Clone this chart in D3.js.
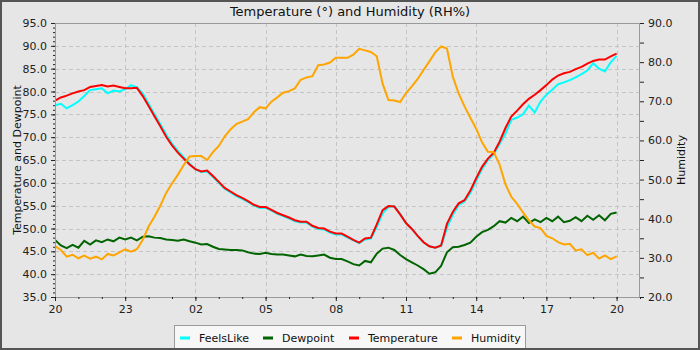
<!DOCTYPE html>
<html>
<head>
<meta charset="utf-8">
<script src="https://cdn.jsdelivr.net/npm/d3@7"></script>
<style>
  body { margin: 0; background: #e6e6e6; }
  svg { display: block; font-family: "DejaVu Sans", sans-serif; }
</style>
</head>
<body>
<svg id="chart" width="700" height="350"></svg>
<script>
// Readings every 15 minutes, starting at 20:00 and running 24 hours.
const startHour = 20;
const sampleMinutes = 15;

const temperature = [
  78.0, 78.7, 79.1, 79.6, 80.0, 80.3, 81.0, 81.2, 81.4, 81.1, 81.3, 81.0,
  80.7, 80.7, 80.8, 79.0, 76.8, 74.6, 72.4, 70.1, 68.2, 66.6, 65.3, 64.0,
  63.0, 62.5, 62.7, 61.5, 60.2, 58.9, 58.1, 57.3, 56.7, 56.0, 55.2, 54.7,
  54.7, 54.1, 53.4, 52.9, 52.4, 51.8, 51.5, 51.5, 50.6, 50.1, 50.0, 49.3,
  48.9, 48.9, 48.2, 47.5, 46.9, 47.8, 48.0, 50.9, 54.0, 54.9, 54.8, 53.1,
  51.2, 49.9, 48.4, 47.0, 46.1, 45.8, 46.3, 51.0, 53.6, 55.5, 56.2, 58.3,
  61.0, 63.5, 65.3, 66.6, 69.0, 72.0, 74.5, 75.8, 77.2, 78.4, 79.3, 80.3,
  81.4, 82.6, 83.5, 84.0, 84.3, 84.9, 85.4, 86.1, 86.7, 87.0, 87.0, 87.7,
  88.3
];

const feelsLike = [
  77.0, 77.3, 76.3, 77.0, 77.8, 79.0, 80.3, 80.5, 80.7, 79.6, 80.2, 80.0,
  80.5, 81.4, 80.9, 79.6, 77.3, 75.0, 72.9, 70.6, 68.6, 67.0, 65.6, 64.2,
  63.0, 62.4, 62.5, 61.3, 60.0, 58.7, 57.9, 57.1, 56.5, 55.8, 55.0, 54.5,
  54.5, 53.9, 53.2, 52.7, 52.2, 51.6, 51.3, 51.3, 50.4, 49.9, 49.8, 49.1,
  48.7, 48.7, 48.0, 47.4, 46.8, 47.6, 47.8, 50.3, 53.3, 54.7, 54.9, 53.2,
  51.2, 49.9, 48.4, 47.0, 46.1, 45.8, 46.2, 50.2, 53.0, 55.1, 55.9, 57.8,
  60.5, 63.0, 65.0, 66.3, 68.5, 70.8, 73.8, 74.3, 75.0, 76.9, 75.4, 77.8,
  79.3, 80.4, 81.6, 82.0, 82.5, 83.1, 83.8, 84.6, 86.2, 85.0, 84.4, 86.4,
  87.8
];

const dewpoint = [
  47.5, 46.3, 45.7, 46.4, 45.8, 47.3, 46.5, 47.4, 47.0, 47.6, 47.2, 48.0,
  47.6, 48.0, 47.4, 48.2, 48.3, 48.0, 47.9, 47.6, 47.5, 47.3, 47.6, 47.2,
  46.9, 46.5, 46.6, 46.0, 45.5, 45.4, 45.3, 45.3, 45.2, 44.8, 44.5, 44.4,
  44.7, 44.4, 44.3, 44.3, 44.1, 43.9, 44.3, 44.0, 43.9, 44.1, 44.3, 43.6,
  43.3, 43.3, 42.8, 42.2, 41.9, 42.9, 42.6, 44.5, 45.6, 45.8, 45.3, 44.2,
  43.3, 42.6, 41.9, 41.1, 40.1, 40.4, 41.8, 44.8, 45.9, 46.0, 46.4, 46.9,
  48.2, 49.2, 49.7, 50.5, 51.6, 51.3, 52.3, 51.6, 52.6, 51.2, 52.0, 51.4,
  52.3, 51.6, 52.6, 51.4, 51.7, 52.5, 51.6, 52.8, 51.9, 52.9, 51.8, 53.2,
  53.5
];

const humidity = [
  33.0, 32.0, 30.3, 30.8, 29.9, 30.6, 29.8, 30.3, 29.6, 31.0, 30.6, 31.4,
  32.2, 31.6, 32.2, 34.6, 38.0, 40.5, 43.3, 46.6, 49.0, 51.2, 53.7, 55.9,
  56.0, 56.0, 55.0, 57.0, 58.6, 61.0, 62.8, 64.2, 64.8, 65.4, 67.2, 68.5,
  68.2, 69.9, 71.0, 72.2, 72.6, 73.3, 75.5, 76.1, 76.4, 79.2, 79.4, 79.9,
  81.1, 81.1, 81.1, 81.9, 83.4, 83.0, 82.6, 81.5, 74.5, 70.3, 70.2, 69.8,
  72.1, 73.8, 75.7, 78.0, 80.2, 82.5, 84.0, 83.5, 76.3, 72.0, 68.7, 65.8,
  63.0, 59.5, 57.1, 57.0, 53.8, 48.8, 45.6, 43.8, 41.6, 39.6, 38.0, 37.6,
  35.6, 35.0, 34.0, 33.4, 33.6, 31.9, 32.2, 30.7, 31.3, 29.8, 30.6, 29.7,
  30.4
];

// Hour-of-day axis: offsets (hours after the start) and their labels.
const hourTicks = [0, 3, 6, 9, 12, 15, 18, 21, 24];
const hourTickLabels = ["20", "23", "02", "05", "08", "11", "14", "17", "20"];

const seriesNames = ["FeelsLike", "Dewpoint", "Temperature", "Humidity"];
const seriesColors = ["#00ffff", "#006400", "#ff0000", "#ffa500"];

// ---------------------------------------------------------------------------
const svg = d3.select("#chart");
const W = 700, H = 350;
const plot = { left: 55, right: 640, top: 23, bottom: 297 };

svg.append("rect").attr("width", W).attr("height", H).attr("fill", "#e6e6e6");

const x = d3.scaleLinear().domain([0, 25]).range([plot.left, plot.right]);
const yL = d3.scaleLinear().domain([35, 95]).range([plot.bottom, plot.top]);
const yR = d3.scaleLinear().domain([20, 90]).range([plot.bottom, plot.top]);

const hourAt = i => i * sampleMinutes / 60;

// grid
const grid = svg.append("g").attr("stroke", "#c4c4c4").attr("stroke-dasharray", "4,3").attr("stroke-width", 1);
grid.selectAll("line.v").data(hourTicks.filter(h => h > 0)).join("line")
  .attr("x1", d => Math.round(x(d)) + 0.5).attr("x2", d => Math.round(x(d)) + 0.5)
  .attr("y1", plot.top).attr("y2", plot.bottom);
grid.selectAll("line.h").data(d3.range(40, 95, 5)).join("line")
  .attr("y1", d => Math.round(yL(d)) + 0.5).attr("y2", d => Math.round(yL(d)) + 0.5)
  .attr("x1", plot.left).attr("x2", plot.right);

// series, drawn back to front
const lines = [feelsLike, dewpoint, temperature, humidity];
const scales = [yL, yL, yL, yR];
svg.append("clipPath").attr("id", "plotclip").append("rect")
  .attr("x", plot.left).attr("y", plot.top)
  .attr("width", plot.right - plot.left).attr("height", plot.bottom - plot.top);
const seriesG = svg.append("g").attr("clip-path", "url(#plotclip)");
lines.forEach((vals, k) => {
  const line = d3.line()
    .x((d, i) => x(hourAt(i)))
    .y(d => scales[k](d))
    .curve(d3.curveLinear);
  seriesG.append("path").datum(vals)
    .attr("d", line)
    .attr("fill", "none")
    .attr("stroke", seriesColors[k])
    .attr("stroke-width", 2)
    .attr("stroke-linejoin", "miter");
});

// plot frame
svg.append("rect")
  .attr("x", plot.left + 0.5).attr("y", plot.top + 0.5)
  .attr("width", plot.right - plot.left - 1).attr("height", plot.bottom - plot.top)
  .attr("fill", "none").attr("stroke", "#9a9a9a");

// axes
function styleAxis(g) {
  g.select(".domain").remove();
  g.selectAll(".tick line").attr("stroke", "#222");
  g.selectAll(".tick text").attr("fill", "#222").attr("font-size", 11)
    .attr("font-family", "DejaVu Sans, sans-serif");
}

svg.append("g").attr("transform", `translate(${plot.left},0)`)
  .call(d3.axisLeft(yL).tickValues(d3.range(35, 96, 1)).tickSize(2).tickFormat(""))
  .call(styleAxis);
svg.append("g").attr("transform", `translate(${plot.left},0)`)
  .call(d3.axisLeft(yL).tickValues(d3.range(35, 96, 5)).tickSize(4).tickPadding(4).tickFormat(d3.format(".1f")))
  .call(styleAxis);

svg.append("g").attr("transform", `translate(${plot.right},0)`)
  .call(d3.axisRight(yR).tickValues(d3.range(20, 91, 5)).tickSize(4).tickPadding(4)
    .tickFormat(d => d % 10 === 0 ? d3.format(".1f")(d) : ""))
  .call(styleAxis);

svg.append("g").attr("transform", `translate(0,${plot.bottom})`)
  .call(d3.axisBottom(x).tickValues(d3.range(0, 26, 1)).tickSize(2).tickFormat(""))
  .call(styleAxis);
svg.append("g").attr("transform", `translate(0,${plot.bottom})`)
  .call(d3.axisBottom(x).tickValues(hourTicks).tickSize(4).tickPadding(4)
    .tickFormat((d, i) => hourTickLabels[i]))
  .call(styleAxis);

// titles
svg.append("text").attr("x", 350).attr("y", 15.5).attr("text-anchor", "middle")
  .attr("font-size", 13).attr("fill", "#111")
  .text("Temperature (°) and Humidity (RH%)");
svg.append("text").attr("transform", `translate(20.5,${(plot.top + plot.bottom) / 2}) rotate(-90)`)
  .attr("text-anchor", "middle").attr("font-size", 11).attr("fill", "#111")
  .text("Temperature and Dewpoint");
svg.append("text").attr("transform", `translate(685,${(plot.top + plot.bottom) / 2}) rotate(-90)`)
  .attr("text-anchor", "middle").attr("font-size", 11).attr("fill", "#111")
  .text("Humidity");

// legend
const legend = svg.append("g");
legend.append("rect").attr("x", 174.5).attr("y", 325.5).attr("width", 351).attr("height", 24)
  .attr("fill", "#f7f7f7").attr("stroke", "#9a9a9a");
const legendX = [180, 263, 349, 452];
seriesNames.forEach((name, k) => {
  legend.append("line")
    .attr("x1", legendX[k]).attr("x2", legendX[k] + 10)
    .attr("y1", 338).attr("y2", 338)
    .attr("stroke", seriesColors[k]).attr("stroke-width", 3);
  legend.append("text").attr("x", legendX[k] + 19).attr("y", 342)
    .attr("font-size", 11).attr("fill", "#111").text(name);
});

// outer frame
svg.append("rect").attr("x", 1).attr("y", 1).attr("width", W - 2).attr("height", H - 2)
  .attr("fill", "none").attr("stroke", "#555").attr("stroke-width", 2);
</script>
</body>
</html>
